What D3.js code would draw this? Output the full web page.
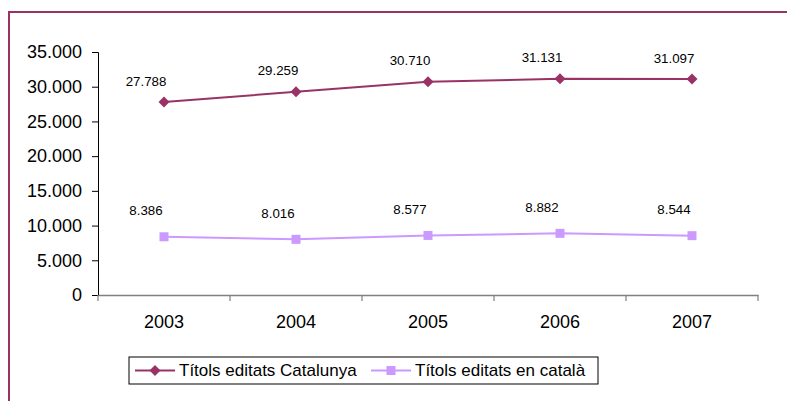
<!DOCTYPE html>
<html>
<head>
<meta charset="utf-8">
<script src="https://cdn.jsdelivr.net/npm/d3@7"></script>
<style>
  html, body { margin: 0; padding: 0; background: #fff; }
  svg { display: block; font-family: "Liberation Sans", Arial, sans-serif; }
</style>
</head>
<body>
<svg id="chart" width="787" height="401"></svg>
<script>
// Years shown on the horizontal axis
const years = ["2003", "2004", "2005", "2006", "2007"];
// Titles published in Catalonia (all languages)
const titolsCatalunya = [27788, 29259, 30710, 31131, 31097];
// Titles published in Catalan
const titolsCatala = [8386, 8016, 8577, 8882, 8544];
// Value axis ticks
const yTicks = [0, 5000, 10000, 15000, 20000, 25000, 30000, 35000];
const seriesNames = ["Títols editats Catalunya", "Títols editats en català"];

const locale = d3.formatLocale({ decimal: ",", thousands: ".", grouping: [3], currency: ["", "€"] });
const fmt = locale.format(",d");

const svg = d3.select("#chart");
svg.append("rect").attr("width", 787).attr("height", 401).attr("fill", "#fff");

// outer chart-area frame
svg.append("rect")
  .attr("x", 9).attr("y", 12).attr("width", 800).attr("height", 420)
  .attr("fill", "none").attr("stroke", "#993366").attr("stroke-width", 2);

const plot = { left: 98, right: 758, top: 52, bottom: 295 };

const x = d3.scaleBand().domain(years).range([plot.left, plot.right]).padding(0);
const y = d3.scaleLinear().domain([0, 35000]).range([plot.bottom, plot.top]);

// Y axis
const yAxis = svg.append("g")
  .attr("transform", `translate(${plot.left},0)`)
  .call(d3.axisLeft(y).tickValues(yTicks).tickFormat(fmt).tickSize(6).tickPadding(10));
yAxis.select(".domain").attr("stroke", "#000").attr("stroke-width", 1);
yAxis.selectAll(".tick line").attr("stroke", "#000");
yAxis.selectAll("text").attr("font-size", 18).attr("fill", "#000")
  .attr("font-family", "'Liberation Sans', Arial, sans-serif");

// X axis
const xAxis = svg.append("g")
  .attr("transform", `translate(0,${plot.bottom})`)
  .call(d3.axisBottom(x).tickSize(0).tickPadding(20));
xAxis.select(".domain").attr("stroke", "#808080").attr("stroke-width", 1.5);
xAxis.selectAll("text").attr("font-size", 18).attr("fill", "#000")
  .attr("font-family", "'Liberation Sans', Arial, sans-serif");
// tick marks on category boundaries
const bounds = years.map(d => x(d)).concat([x(years[years.length - 1]) + x.bandwidth()]);
svg.append("g").selectAll("line").data(bounds).join("line")
  .attr("x1", d => d).attr("x2", d => d)
  .attr("y1", plot.bottom).attr("y2", plot.bottom + 6)
  .attr("stroke", "#808080").attr("stroke-width", 1.2);

const cx = d => x(d) + x.bandwidth() / 2;

const series = [
  { name: seriesNames[0], values: titolsCatalunya, color: "#993366", marker: "diamond", labelDy: -21 },
  { name: seriesNames[1], values: titolsCatala, color: "#CC99FF", marker: "square", labelDy: -26 }
];

function drawMarker(g, type, color) {
  if (type === "diamond") {
    g.append("path").attr("d", "M0,-5.5L5.5,0L0,5.5L-5.5,0Z").attr("fill", color);
  } else {
    g.append("rect").attr("x", -4.5).attr("y", -4.5).attr("width", 9).attr("height", 9).attr("fill", color);
  }
}

const line = d3.line().x((d, i) => cx(years[i])).y(d => y(d));

series.forEach(s => {
  svg.append("path").datum(s.values)
    .attr("d", line).attr("fill", "none")
    .attr("stroke", s.color).attr("stroke-width", 2);
  s.values.forEach((v, i) => {
    const g = svg.append("g").attr("transform", `translate(${cx(years[i])},${y(v)})`);
    drawMarker(g, s.marker, s.color);
  });
  svg.append("g").selectAll("text").data(s.values).join("text")
    .attr("x", (d, i) => cx(years[i]) - 18)
    .attr("y", d => y(d) + s.labelDy)
    .attr("text-anchor", "middle")
    .attr("dominant-baseline", "central")
    .attr("font-size", 13.3).attr("fill", "#000")
    .text(d => fmt(d));
});

// Legend
const legend = svg.append("g");
legend.append("rect")
  .attr("x", 129).attr("y", 357).attr("width", 469).attr("height", 27)
  .attr("fill", "#fff").attr("stroke", "#000").attr("stroke-width", 1);
const legendItems = [
  { s: series[0], x0: 135, tx: 179 },
  { s: series[1], x0: 371, tx: 415 }
];
legendItems.forEach(it => {
  const yy = 370.5;
  legend.append("line").attr("x1", it.x0).attr("x2", it.x0 + 40)
    .attr("y1", yy).attr("y2", yy).attr("stroke", it.s.color).attr("stroke-width", 2);
  const g = legend.append("g").attr("transform", `translate(${it.x0 + 20},${yy})`);
  drawMarker(g, it.s.marker, it.s.color);
  legend.append("text").attr("x", it.tx).attr("y", yy)
    .attr("dominant-baseline", "central").attr("font-size", 17).attr("fill", "#000")
    .text(it.s.name);
});
</script>
</body>
</html>
